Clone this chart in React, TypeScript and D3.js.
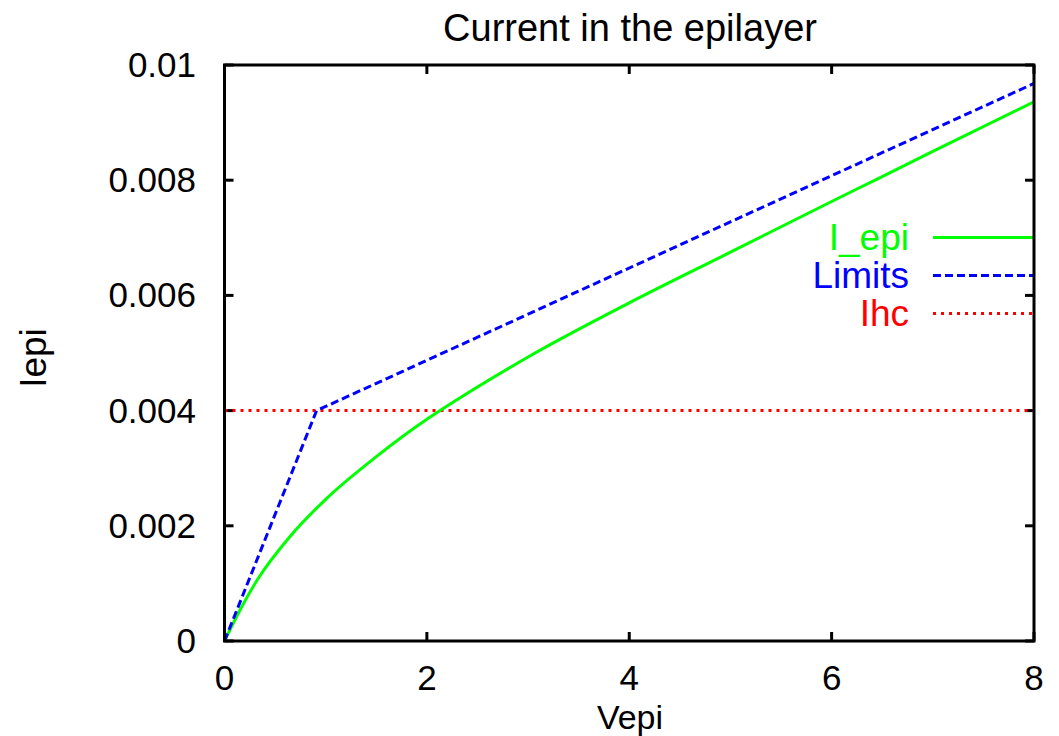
import React from "react";
import * as d3 from "d3";

const vepi = [0, 0.16, 0.32, 0.65, 1.0, 1.5, 2.0, 2.13, 3, 4, 5, 6, 6.45, 7, 8];
const iepi = [0, 0.00056, 0.00105, 0.00182, 0.00246, 0.0032, 0.00385, 0.004, 0.00493, 0.00587, 0.00675, 0.00763, 0.00802, 0.0085, 0.00936];
const limitsV = [0, 0.91, 8];
const limitsI = [0, 0.004, 0.00968];
const ihcV = [0, 8];
const ihcI = [0.004, 0.004];
const xTicks = [0, 2, 4, 6, 8];
const yTicks = [0, 0.002, 0.004, 0.006, 0.008, 0.01];
const yTickLabels = ["0", "0.002", "0.004", "0.006", "0.008", "0.01"];
const legendNames = ["I_epi", "Limits", "Ihc"];

export default function App() {
  const W = 1059, H = 736;
  const left = 224.5, right = 1034, top = 65, bottom = 641;
  const x = d3.scaleLinear().domain([0, 8]).range([left, right]);
  const y = d3.scaleLinear().domain([0, 0.01]).range([bottom, top]);
  const font = "'Liberation Sans', Arial, Helvetica, sans-serif";
  const fs = 35;
  const fsL = 37;

  const green = d3.line<number>().x((d, i) => x(vepi[i])).y((d) => y(d)).curve(d3.curveMonotoneX)(iepi) || "";
  const blue = d3.line<number>().x((d, i) => x(limitsV[i])).y((d) => y(d))(limitsI) || "";
  const red = d3.line<number>().x((d, i) => x(ihcV[i])).y((d) => y(d))(ihcI) || "";

  const styles = [
    { color: "#00ff00", dash: "none" },
    { color: "#0000ff", dash: "8,4" },
    { color: "#ff0000", dash: "3,5" },
  ];
  const tickLen = 9;

  return (
    <svg width={W} height={H} style={{ position: "absolute", left: 0, top: 0, background: "#fff" }} fontFamily={font}>
      <rect x={0} y={0} width={W} height={H} fill="#fff" />
      <defs>
        <clipPath id="plot">
          <rect x={left} y={top} width={right - left} height={bottom - top} />
        </clipPath>
      </defs>
      <text x={630} y={41} fontSize={fsL + 1} textAnchor="middle" fill="#000">Current in the epilayer</text>

      {yTicks.map((t, i) => (
        <g key={"y" + i}>
          <line x1={left} x2={left + tickLen} y1={y(t)} y2={y(t)} stroke="#000" strokeWidth={3} />
          <line x1={right} x2={right - tickLen} y1={y(t)} y2={y(t)} stroke="#000" strokeWidth={3} />
          <text x={196} y={y(t) + 12} fontSize={fs} textAnchor="end" fill="#000">{yTickLabels[i]}</text>
        </g>
      ))}
      {xTicks.map((t, i) => (
        <g key={"x" + i}>
          <line x1={x(t)} x2={x(t)} y1={bottom} y2={bottom - tickLen} stroke="#000" strokeWidth={3} />
          <line x1={x(t)} x2={x(t)} y1={top} y2={top + tickLen} stroke="#000" strokeWidth={3} />
          <text x={x(t)} y={690} fontSize={fs} textAnchor="middle" fill="#000">{String(t)}</text>
        </g>
      ))}

      <text x={630} y={728.5} fontSize={34} textAnchor="middle" fill="#000">Vepi</text>
      <text transform="translate(46,358) rotate(-90)" fontSize={fsL} textAnchor="middle" fill="#000">Iepi</text>

      <g clipPath="url(#plot)">
        <path d={red} fill="none" stroke={styles[2].color} strokeWidth={3} strokeDasharray={styles[2].dash} />
        <path d={green} fill="none" stroke={styles[0].color} strokeWidth={3} />
        <path d={blue} fill="none" stroke={styles[1].color} strokeWidth={3} strokeDasharray={styles[1].dash} />
      </g>

      {legendNames.map((n, i) => {
        const ly = 237.5 + i * 38;
        return (
          <g key={n}>
            <text x={909} y={ly + 12} fontSize={fsL} textAnchor="end" fill={styles[i].color}>{n}</text>
            <line x1={933} x2={right} y1={ly} y2={ly} stroke={styles[i].color} strokeWidth={3}
              strokeDasharray={styles[i].dash} />
          </g>
        );
      })}

      <rect x={left} y={top} width={right - left} height={bottom - top} fill="none" stroke="#000" strokeWidth={3} />
    </svg>
  );
}
